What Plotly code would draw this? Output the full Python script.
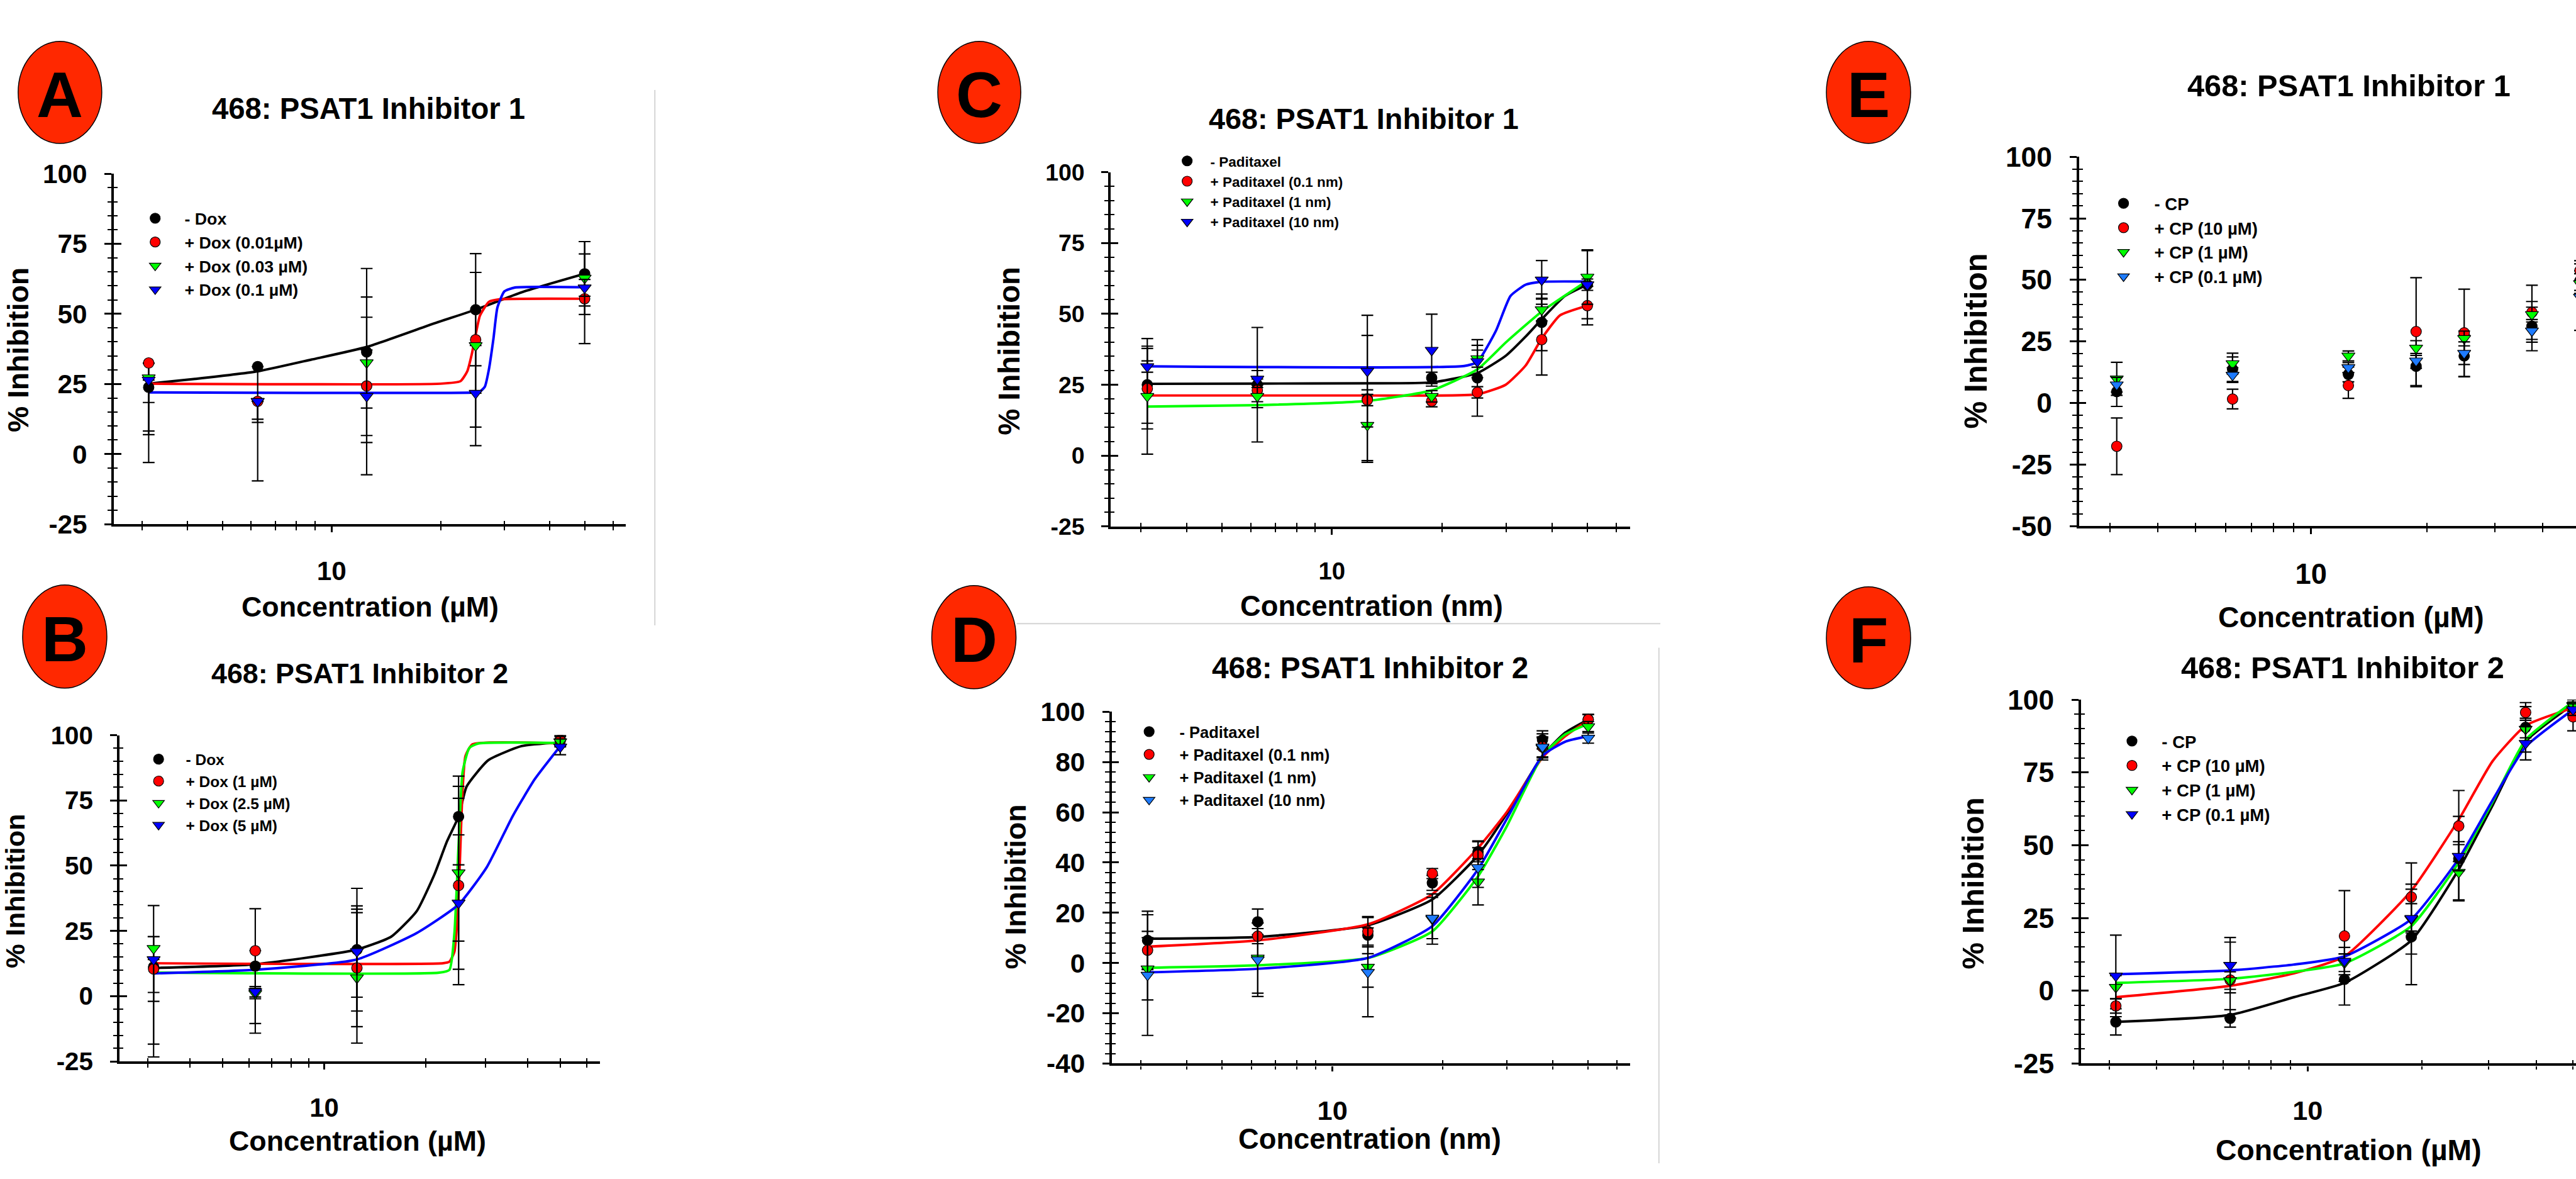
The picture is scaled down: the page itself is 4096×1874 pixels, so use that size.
import plotly.graph_objects as go

# ============================ DATA ============================
conc5 = [3.125, 6.25, 12.5, 25, 50]
conc7 = [3.125, 6.25, 12.5, 18.75, 25, 37.5, 50]
minor_x = [3, 4, 5, 6, 7, 8, 9, 20, 30, 40, 50, 60]

# ---- Panel A : 468 PSAT1 Inhibitor 1 (Dox) ----
A_names = ["- Dox", "+ Dox (0.01µM)", "+ Dox (0.03 µM)", "+ Dox (0.1 µM)"]
A_k = [23.8, 31.2, 36.4, 51.5, 64.3]
A_k_ep = [8.5, 0, 29.8, 20, 11.5]
A_k_em = [26.8, 40.8, 29.8, 20, 11.5]
A_r = [32.5, 18.8, 24.3, 40.8, 55.4]
A_r_ep = [0, 0, 31.7, 24, 16]
A_r_em = [25.6, 7.5, 31.7, 31.2, 16]
A_g = [27.2, 18.8, 32.6, 38.7, 62.8]
A_g_ep = [0, 0, 16.2, 0, 13]
A_g_em = [19, 6.4, 16.2, 35.7, 13]
A_b = [26.4, 18.8, 20.6, 21.7, 59.3]
A_b_ep = [0, 0, 16.5, 0, 3]
A_b_em = [8, 0, 16.5, 0, 3]
A_k_fx = [3.125, 4.2, 6.25, 8.8, 12.5, 19.3, 25, 33.5, 50]
A_k_fy = [25.1, 26.8, 29.5, 33.7, 38.2, 46.7, 51.5, 57.7, 64.3]
A_r_fx = [3.125, 20, 22.7, 23.7, 24.4, 25, 25.7, 27.2, 29.1, 50]
A_r_fy = [25.1, 25.1, 26, 29.5, 35.7, 42.6, 49.4, 54.3, 55.2, 55.4]
A_b_fx = [3.125, 25, 25.7, 26.5, 27.2, 28, 28.7, 30, 32.1, 50]
A_b_fy = [22, 22, 22.3, 24, 30.2, 41.2, 52.2, 58, 59.4, 59.5]

# ---- Panel B : 468 PSAT1 Inhibitor 2 (Dox) ----
B_names = ["- Dox", "+ Dox (1 µM)", "+ Dox (2.5 µM)", "+ Dox (5 µM)"]
B_k = [11.2, 11.5, 17.8, 68.8, 98.2]
B_k_ep = [23.5, 22, 23.5, 7, 2]
B_k_em = [34.5, 22, 23.5, 7, 2]
B_r = [10.4, 17.4, 10.8, 42.4, 97.9]
B_r_ep = [12.4, 0, 22.5, 38, 2]
B_r_em = [12.4, 31.6, 22.5, 38, 2]
B_g = [18.3, 1.0, 7.0, 47.3, 97.5]
B_g_ep = [4.5, 2, 25, 37, 2]
B_g_em = [36.7, 2, 25, 37, 2]
B_b = [14.0, 1.7, 17.1, 35.7, 95.5]
B_b_ep = [0, 2, 17.5, 14.6, 3]
B_b_em = [12.6, 2, 17.5, 14.6, 3]
B_k_fx = [3.125, 6.22, 12.45, 15.8, 18.8, 21.2, 23.1, 25, 26.4, 30.6, 38.4, 50]
B_k_fy = [10.8, 12.2, 17.8, 22.8, 32.6, 46.6, 59.3, 68.8, 80.3, 90.4, 95.8, 97.2]
B_r_fx = [3.125, 22.5, 23.5, 24.3, 24.8, 25.2, 25.6, 26.2, 27.5, 50]
B_r_fy = [12.6, 12.6, 13.2, 17, 30, 50, 75, 92, 96.5, 96.8]
B_g_fx = [3.125, 21.9, 23.5, 24.3, 25.0, 25.7, 26.9, 28.6, 50]
B_g_fy = [9.0, 9.0, 10.1, 24.2, 57.9, 86, 95.1, 96.8, 97]
B_b_fx = [3.125, 6.22, 12.45, 18.8, 25, 30.3, 36.2, 42, 50]
B_b_fy = [8.7, 10.1, 14.0, 24.2, 35.1, 49.4, 69.1, 83.1, 95.8]

# ---- Panel C : 468 PSAT1 Inhibitor 1 (Paditaxel) ----
C_names = ["- Paditaxel", "+ Paditaxel (0.1 nm)", "+ Paditaxel (1 nm)", "+ Paditaxel (10 nm)"]
C_k = [25, 25, 20, 27.4, 27.4, 47, 60.3]
C_k_err = [13.6, 20.2, 22.4, 2, 13.5, 10, 12]
C_r = [23.6, 23.0, 19.6, 19.2, 22.3, 40.9, 52.9]
C_r_err = [14.2, 4, 2, 2, 2, 12.5, 6.8]
C_g = [20.9, 20.9, 10.7, 20.9, 34.2, 51.5, 63.0]
C_g_err = [20.4, 4, 12.5, 2, 3, 4, 9.6]
C_b = [31.4, 27.0, 29.8, 37.2, 33.2, 62.0, 60.3]
C_b_err = [2, 3, 19.7, 12.7, 5.7, 6.8, 2]
C_k_fx = [3.125, 6.25, 12.5, 18.75, 25, 29.9, 33.9, 37.5, 43.4, 50]
C_k_fy = [25.3, 25.4, 25.5, 25.8, 29.1, 35.2, 42, 48.1, 56.3, 60.3]
C_r_fx = [3.125, 12.5, 25, 29.9, 33.9, 37.5, 42.1, 50]
C_r_fy = [21.2, 21.2, 21.6, 25, 31.8, 41.3, 49.5, 52.9]
C_g_fx = [3.125, 6.25, 12.5, 18.75, 25, 29.9, 37.5, 50]
C_g_fy = [17.3, 17.8, 19.3, 23, 30.4, 39.9, 50.8, 61.7]
C_b_fx = [3.125, 23.0, 25, 28.1, 30.8, 33.9, 37.2, 50]
C_b_fy = [31.5, 31.6, 33.0, 44.0, 56.3, 60.3, 61.3, 61.4]

# ---- Panel D : 468 PSAT1 Inhibitor 2 (Paditaxel) ----
D_names = ["- Paditaxel", "+ Paditaxel (0.1 nm)", "+ Paditaxel (1 nm)", "+ Paditaxel (10 nm)"]
D_k = [9.0, 16.4, 11.1, 31.9, 44.3, 88.8, 96.9]
D_k_err = [11.6, 5.1, 7.4, 3, 4, 3.6, 2]
D_r = [5.1, 10.7, 12.6, 35.6, 42.9, 86.0, 96.9]
D_r_err = [7.5, 3, 5.5, 2, 5.7, 5.2, 2]
D_g = [-2.3, 2.0, -1.6, 17.5, 32.3, 85.6, 94.1]
D_g_err = [12.4, 14, 8, 10, 9.2, 4, 2]
D_b = [-4.8, 1.3, -3.7, 17.9, 38.0, 86.0, 89.5]
D_b_err = [24, 14.6, 17.7, 8.2, 7.9, 4, 2]
D_fx = [3.125, 6.25, 12.5, 18.75, 25, 29.9, 37.5, 43.3, 50]
D_k_fy = [9.7, 10.4, 15, 25.3, 42.9, 59.2, 82.5, 91.7, 96.9]
D_r_fy = [6.5, 9.0, 15.4, 27.4, 45.8, 59.9, 81.8, 90.3, 96.6]
D_g_fy = [-1.9, -0.9, 2.0, 12.6, 34.5, 54.2, 82.5, 91.0, 95.2]
D_b_fy = [-3.7, -2.3, 2.0, 14.7, 37.3, 57.1, 82.5, 88.1, 90.3]

# ---- Panel E : 468 PSAT1 Inhibitor 1 (CP) ----
E_names = ["- CP", "+ CP (10 µM)", "+ CP (1 µM)", "+ CP (0.1 µM)"]
E_k = [4.6, 13.7, 11.6, 14.9, 19.1, 31.2, 49.7]
E_k_err = [6, 5, 3, 8.3, 8.5, 10, 4]
E_r = [-17.6, 1.6, 7.1, 29.0, 28.5, 36.8, 53.8]
E_r_err = [11.5, 4, 5.2, 21.9, 17.7, 11, 4]
E_g = [9.8, 16.0, 19.1, 22.3, 26.2, 35.9, 48.5]
E_g_err = [6.7, 4.2, 2, 3, 3, 3, 4]
E_b = [7.4, 11.3, 14.4, 17.1, 20.2, 29.3, 43.0]
E_b_err = [3, 3, 2, 3, 4.6, 4.6, 13.5]

# ---- Panel F : 468 PSAT1 Inhibitor 2 (CP) ----
F_names = ["- CP", "+ CP (10 µM)", "+ CP (1 µM)", "+ CP (0.1 µM)"]
F_k = [-10.7, -9.5, 3.9, 18.5, 45.4, 90.5, 97.2]
F_k_err = [4.5, 3, 8.8, 16.4, 14.5, 8.5, 2]
F_r = [-5.2, 3.7, 18.8, 32.2, 56.6, 95.6, 94.1]
F_r_err = [2.5, 13, 15.6, 11.7, 12.2, 2, 4.8]
F_g = [1.2, 3.5, 9.6, 24.6, 40.7, 89.9, 98.0]
F_g_err = [4, 3, 3, 12, 9.5, 3, 2]
F_b = [5.1, 8.8, 10.2, 24.9, 46.2, 85.0, 96.6]
F_b_err = [14, 9.5, 4.7, 5, 5, 5.7, 2]
F_fx = [3.125, 6.25, 9.2, 12.5, 18.75, 25, 30.7, 37.5, 50]
F_k_fy = [-10.7, -8.3, -2.2, 2.7, 17.3, 41.7, 63.7, 85.6, 98.4]
F_r_fy = [-2.2, 1.7, 6.0, 11.8, 34.4, 58.8, 78.9, 91.1, 97.2]
F_g_fy = [2.7, 4.1, 6.5, 9.4, 22.2, 44.1, 64.9, 86.2, 99.3]
F_b_fy = [5.7, 7.0, 9.0, 11.8, 24.6, 45.4, 65.5, 83.8, 96.6]

# ============================ STYLE / LAYOUT ============================
RW, RH = 4158.0, 1902.0
OW, OH = 4096, 1874
S = 0.985
FONT = "Liberation Sans, Arial, Helvetica, sans-serif"
RED, GREEN, BLUE, LBLUE = "#FF0000", "#00FF00", "#0000FF", "#1E7BFF"
SYMS = ["circle", "circle", "triangle-down", "triangle-down"]

def px(x):
    return x / RW

def py(y):
    return 1.0 - y / RH

panels = [
    dict(letter="A", x=conc5, ys=[A_k, A_r, A_g, A_b],
         ep=[A_k_ep, A_r_ep, A_g_ep, A_b_ep], em=[A_k_em, A_r_em, A_g_em, A_b_em],
         fits=[(A_k_fx, A_k_fy), (A_r_fx, A_r_fy), None, (A_b_fx, A_b_fy)],
         names=A_names, mcol=["black", RED, GREEN, BLUE], lcol=["black", RED, GREEN, BLUE],
         title="468: PSAT1 Inhibitor 1", xtitle="Concentration (µM)",
         g=dict(x0=183.8, x1=1010.2, yt=262.8, yb=843.2), xr=(0.3987, 1.8128), yr=(-25, 100), ydt=25, ymn=5,
         ytf=43, xtf=43, leg=(250.5, 336, 47.5, 26.7),
         ttl=(595, 155, 48), xt=(597, 980, 45.5), yt=(29, 555, 47), ell=(96.8, 128, 67.5, 84.6)),
    dict(letter="B", x=conc5, ys=[B_k, B_r, B_g, B_b],
         ep=[B_k_ep, B_r_ep, B_g_ep, B_b_ep], em=[B_k_em, B_r_em, B_g_em, B_b_em],
         fits=[(B_k_fx, B_k_fy), (B_r_fx, B_r_fy), (B_g_fx, B_g_fy), (B_b_fx, B_b_fy)],
         names=B_names, mcol=["black", RED, GREEN, BLUE], lcol=["black", RED, GREEN, BLUE],
         title="468: PSAT1 Inhibitor 2", xtitle="Concentration (µM)",
         g=dict(x0=192.9, x1=968.1, yt=1192.8, yb=1733.2), xr=(0.3939, 1.816), yr=(-25, 100), ydt=25, ymn=5,
         ytf=41, xtf=42.5, leg=(256, 1232.3, 44, 24.5),
         ttl=(581, 1090, 45.5), xt=(577, 1864, 45.5), yt=(25, 1451, 44), ell=(104.5, 1029.5, 68, 85.5)),
    dict(letter="C", x=conc7, ys=[C_k, C_r, C_g, C_b],
         ep=[C_k_err, C_r_err, C_g_err, C_b_err], em=[C_k_err, C_r_err, C_g_err, C_b_err],
         fits=[(C_k_fx, C_k_fy), (C_r_fx, C_r_fy), (C_g_fx, C_g_fy), (C_b_fx, C_b_fy)],
         names=C_names, mcol=["black", RED, GREEN, BLUE], lcol=["black", RED, GREEN, BLUE],
         title="468: PSAT1 Inhibitor 1", xtitle="Concentration (nm)",
         g=dict(x0=1792.8, x1=2631.5, yt=260.2, yb=847.0), xr=(0.3947, 1.8164), yr=(-25, 100), ydt=25, ymn=5,
         ytf=38, xtf=39, leg=(1916.4, 241, 37.4, 22.5),
         ttl=(2201, 172, 47.5), xt=(2213.7, 979, 46), yt=(1628.6, 556, 48), ell=(1580.7, 128, 67, 84.5)),
    dict(letter="D", x=conc7, ys=[D_k, D_r, D_g, D_b],
         ep=[D_k_err, D_r_err, D_g_err, D_b_err], em=[D_k_err, D_r_err, D_g_err, D_b_err],
         fits=[(D_fx, D_k_fy), (D_fx, D_r_fy), (D_fx, D_g_fy), (D_fx, D_b_fy)],
         names=D_names, mcol=["black", RED, GREEN, LBLUE], lcol=["black", RED, GREEN, BLUE],
         title="468: PSAT1 Inhibitor 2", xtitle="Concentration (nm)",
         g=dict(x0=1794.4, x1=2631.5, yt=1154, yb=1736.8), xr=(0.3968, 1.814), yr=(-40, 100), ydt=20, ymn=4,
         ytf=43, xtf=44, leg=(1855, 1186.7, 49, 25.5),
         ttl=(2211, 1081, 48.5), xt=(2211, 1862, 46), yt=(1639, 1444.5, 47), ell=(1572, 1030.5, 68, 85.5)),
    dict(letter="E", x=conc7, ys=[E_k, E_r, E_g, E_b],
         ep=[E_k_err, E_r_err, E_g_err, E_b_err], em=[E_k_err, E_r_err, E_g_err, E_b_err],
         fits=[None, None, None, None],
         names=E_names, mcol=["black", RED, GREEN, LBLUE], lcol=["black", RED, GREEN, BLUE],
         title="468: PSAT1 Inhibitor 1", xtitle="Concentration (µM)",
         g=dict(x0=3355.7, x1=4158, yt=234.7, yb=846.4), xr=(0.3966, 1.6886), yr=(-50, 100), ydt=25, ymn=5,
         ytf=45, xtf=46, leg=(3428, 311.2, 49.7, 27.5),
         ttl=(3792, 116.7, 49.5), xt=(3794.6, 997, 47), yt=(3188.8, 540, 50), ell=(3016, 128, 68, 84.5)),
    dict(letter="F", x=conc7, ys=[F_k, F_r, F_g, F_b],
         ep=[F_k_err, F_r_err, F_g_err, F_b_err], em=[F_k_err, F_r_err, F_g_err, F_b_err],
         fits=[(F_fx, F_k_fy), (F_fx, F_r_fy), (F_fx, F_g_fy), (F_fx, F_b_fy)],
         names=F_names, mcol=["black", RED, GREEN, BLUE], lcol=["black", RED, GREEN, BLUE],
         title="468: PSAT1 Inhibitor 2", xtitle="Concentration (µM)",
         g=dict(x0=3359, x1=4158, yt=1134, yb=1736.8), xr=(0.4031, 1.7067), yr=(-25, 100), ydt=25, ymn=5,
         ytf=45, xtf=44, leg=(3441.6, 1202.3, 48.1, 27.5),
         ttl=(3781, 1081, 49.5), xt=(3790.6, 1880, 47), yt=(3184.8, 1438.6, 49), ell=(3016, 1031.5, 68, 84.5)),
]

LW = 4.2 * S
XSTAND = 25
YSTAND = 19

fig = go.Figure()
layout = dict(width=OW, height=OH, margin=dict(l=0, r=0, t=0, b=0, pad=0),
              paper_bgcolor="white", plot_bgcolor="rgba(0,0,0,0)",
              showlegend=True, annotations=[], shapes=[])

for i, P in enumerate(panels):
    n = i + 1
    o = n + 6
    xid = "x" if n == 1 else "x%d" % n
    yid = "y" if n == 1 else "y%d" % n
    xkey = "xaxis" if n == 1 else "xaxis%d" % n
    ykey = "yaxis" if n == 1 else "yaxis%d" % n
    legkey = "legend" if n == 1 else "legend%d" % n
    g = P["g"]
    xdom = [px(g["x0"]), min(1.0, px(g["x1"]))]
    ydom = [py(g["yb"]), py(g["yt"])]
    y0, y1 = P["yr"]
    yticks = list(range(y0, y1 + 1, P["ydt"]))
    yminor = [v for v in range(y0, y1 + 1, P["ymn"]) if v not in yticks]

    xtick_font = dict(family=FONT, size=P["xtf"] * S, color="black", weight="bold")
    ytick_font = dict(family=FONT, size=P["ytf"] * S, color="black", weight="bold")

    layout[xkey] = dict(type="log", domain=xdom, range=list(P["xr"]), anchor=yid,
                        showline=True, linecolor="black", linewidth=LW, mirror=False,
                        ticks="outside", ticklen=9 * S, tickwidth=3.5 * S, tickcolor="black",
                        tickmode="array", tickvals=[10], ticktext=["10"], tickfont=xtick_font,
                        ticklabelstandoff=XSTAND, showgrid=False, zeroline=False,
                        minor=dict(tickmode="array", tickvals=minor_x, ticks="outside", ticklen=5.5 * S,
                                   tickwidth=2 * S, tickcolor="black", showgrid=False),
                        fixedrange=True)
    layout[ykey] = dict(domain=ydom, range=[y0, y1], anchor=xid,
                        showline=True, linecolor="black", linewidth=LW,
                        ticks="outside", ticklen=11 * S, tickwidth=3.3 * S, tickcolor="black",
                        tickmode="array", tickvals=yticks, ticktext=[str(v) for v in yticks],
                        tickfont=ytick_font, ticklabelstandoff=YSTAND,
                        showgrid=False, zeroline=False,
                        minor=dict(tickmode="array", tickvals=yminor, ticks="outside", ticklen=6.5 * S,
                                   tickwidth=2 * S, tickcolor="black", showgrid=False),
                        fixedrange=True)
    # overlay axes that draw the inner half of the crossing tick marks
    layout["xaxis%d" % o] = dict(type="log", overlaying=xid, anchor=yid, range=list(P["xr"]),
                                 showline=False, ticks="inside", ticklen=0.1, tickwidth=0.1,
                                 tickmode="array", tickvals=[10], showticklabels=False,
                                 showgrid=False, zeroline=False,
                                 minor=dict(tickmode="array", tickvals=minor_x, ticks="inside",
                                            ticklen=5.5 * S, tickwidth=2 * S, tickcolor="black",
                                            showgrid=False),
                                 fixedrange=True)
    layout["yaxis%d" % o] = dict(overlaying=yid, anchor=xid, range=[y0, y1],
                                 showline=False, ticks="inside", ticklen=12 * S, tickwidth=3.3 * S,
                                 tickcolor="black", tickmode="array", tickvals=yticks,
                                 showticklabels=False, showgrid=False, zeroline=False,
                                 minor=dict(tickmode="array", tickvals=yminor, ticks="inside",
                                            ticklen=6.5 * S, tickwidth=2 * S, tickcolor="black",
                                            showgrid=False),
                                 fixedrange=True)
    fig.add_trace(go.Scatter(x=[None], y=[None], xaxis="x%d" % o, yaxis="y%d" % o,
                             showlegend=False, hoverinfo="skip"))

    # fitted curves
    for k in range(4):
        f = P["fits"][k]
        if f is None:
            continue
        fig.add_trace(go.Scatter(x=f[0], y=f[1], mode="lines", xaxis=xid, yaxis=yid,
                                 line=dict(color=P["lcol"][k], width=4 * S, shape="spline", smoothing=0.5),
                                 showlegend=False, hoverinfo="skip"))
    # data points with error bars
    for k in range(4):
        fig.add_trace(go.Scatter(
            x=P["x"], y=P["ys"][k], mode="markers", xaxis=xid, yaxis=yid,
            name=P["names"][k], legend=legkey,
            marker=dict(symbol=SYMS[k], size=(17 if k < 2 else 18.5) * S, color=P["mcol"][k],
                        line=dict(color="black", width=1.2)),
            error_y=dict(type="data", symmetric=False, array=P["ep"][k], arrayminus=P["em"][k],
                         color="black", thickness=2.2 * S, width=9.5 * S),
        ))

    # legend
    mx, my, gap, lf = P["leg"]
    iw = 2 * (gap * S - 5)
    h = 1.3 * lf + 3
    left = mx * S - 5 - iw / 2
    top = my * S - 5 - h / 2
    layout[legkey] = dict(x=left / OW, y=1 - top / OH, xanchor="left", yanchor="top",
                          xref="paper", yref="paper", bgcolor="rgba(0,0,0,0)", borderwidth=0,
                          itemwidth=max(30, iw), tracegroupgap=0, traceorder="normal",
                          font=dict(family=FONT, size=lf, color="black", weight="bold"))

    # title, axis titles
    tx, ty, tf = P["ttl"]
    layout["annotations"].append(dict(text="<b>%s</b>" % P["title"], x=px(tx), y=py(ty), xref="paper",
                                      yref="paper", showarrow=False, xanchor="center", yanchor="middle",
                                      font=dict(family=FONT, size=tf * S, color="black")))
    tx, ty, tf = P["xt"]
    layout["annotations"].append(dict(text="<b>%s</b>" % P["xtitle"], x=px(tx), y=py(ty), xref="paper",
                                      yref="paper", showarrow=False, xanchor="center", yanchor="middle",
                                      font=dict(family=FONT, size=tf * S, color="black")))
    tx, ty, tf = P["yt"]
    layout["annotations"].append(dict(text="<b>% Inhibition</b>", x=px(tx), y=py(ty), xref="paper",
                                      yref="paper", showarrow=False, xanchor="center", yanchor="middle",
                                      textangle=-90,
                                      font=dict(family=FONT, size=tf * S, color="black")))
    # red ellipse with the panel letter
    cx, cy, rx, ry = P["ell"]
    layout["shapes"].append(dict(type="circle", xref="paper", yref="paper",
                                 x0=px(cx - rx), x1=px(cx + rx), y0=py(cy + ry), y1=py(cy - ry),
                                 fillcolor="#FF2800", line=dict(color="black", width=1.5 * S), layer="above"))
    layout["annotations"].append(dict(text="<b>%s</b>" % P["letter"], x=px(cx), y=py(cy + 4), xref="paper",
                                      yref="paper", showarrow=False, xanchor="center", yanchor="middle",
                                      font=dict(family=FONT, size=104 * S, color="black")))

# thin grey borders of the pasted sub-images
for (xa, ya, xb, yb) in [(1057, 124, 1057, 1011), (1641, 1008, 2680, 1008), (2677.7, 1048, 2677.7, 1902)]:
    layout["shapes"].append(dict(type="line", xref="paper", yref="paper",
                                 x0=px(xa), y0=py(ya), x1=px(xb), y1=py(yb),
                                 line=dict(color="#D4D4D4", width=2 * S)))

fig.update_layout(**layout)
fig.write_html("out.html")
